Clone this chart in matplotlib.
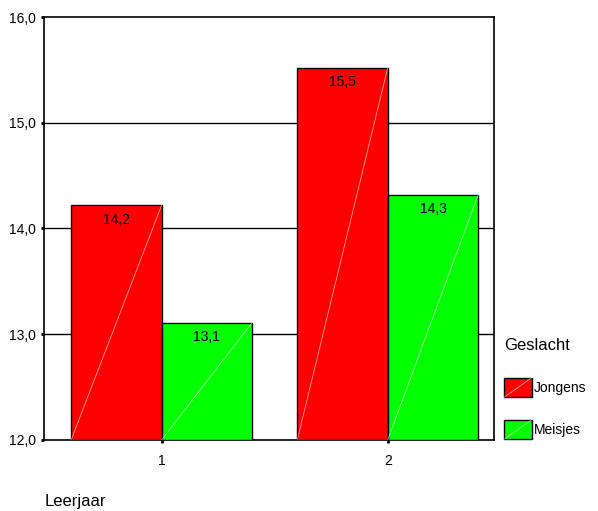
import matplotlib.pyplot as plt
from matplotlib.patches import Patch, Rectangle
from matplotlib.lines import Line2D
from matplotlib.legend_handler import HandlerPatch

plt.rcParams['font.family'] = ['Liberation Sans', 'DejaVu Sans']

leerjaar = [1, 2]
jongens = [14.22, 15.52]
meisjes = [13.11, 14.32]
groepen = ['Jongens', 'Meisjes']
kleuren = ['#ff0000', '#00ff00']
yticks = [12, 13, 14, 15, 16]


class DiagonalPatch(HandlerPatch):
    # legend swatch with the same faint diagonal as the bars
    def create_artists(self, legend, orig_handle, xdescent, ydescent,
                       width, height, fontsize, trans):
        r = Rectangle((-xdescent, -ydescent), width, height,
                      facecolor=orig_handle.get_facecolor(),
                      edgecolor='black', lw=1, transform=trans)
        d = Line2D([-xdescent, -xdescent + width],
                   [-ydescent, -ydescent + height],
                   color='white', lw=0.6, alpha=0.6, transform=trans)
        return [r, d]


fig = plt.figure(figsize=(5.98, 5.11), dpi=100)
ax = fig.add_axes([0.0736, 0.139, 0.7525, 0.8277])

w = 0.4
for series, offset, kleur in [(jongens, -w / 2, kleuren[0]), (meisjes, w / 2, kleuren[1])]:
    xs = [x + offset for x in leerjaar]
    ax.bar(xs, [v - 12 for v in series], bottom=12, width=w, color=kleur,
           edgecolor='black', linewidth=1, zorder=3)
    for x, v in zip(xs, series):
        # faint diagonal across each bar
        ax.plot([x - w / 2, x + w / 2], [12, v], color='white', lw=0.6,
                alpha=0.6, zorder=4)
        ax.text(x, v - 0.07, ('%.1f' % v).replace('.', ','), ha='center',
                va='top', fontsize=10, zorder=5)

ax.set_xlim(0.48, 2.47)
ax.set_ylim(12, 16)
ax.set_yticks(yticks)
ax.set_yticklabels([('%.1f' % t).replace('.', ',') for t in yticks], fontsize=10)
ax.set_xticks(leerjaar)
ax.set_xticklabels([str(x) for x in leerjaar], fontsize=10)
ax.tick_params(length=2, width=2, pad=4)
ax.tick_params(axis='x', pad=8)
for t in yticks[1:-1]:
    ax.axhline(t, color='black', lw=1, zorder=1)
for s in ax.spines.values():
    s.set_linewidth(1.2)

fig.text(0.075, 0.003, 'Leerjaar', fontsize=12, ha='left', va='bottom')

handles = [Patch(facecolor=k, edgecolor='black', label=g) for g, k in zip(groepen, kleuren)]
leg = ax.legend(handles=handles, title='Geslacht', loc='upper left',
                bbox_to_anchor=(1.01, 0.255), frameon=False, fontsize=10,
                title_fontsize=12, alignment='left', labelspacing=1.6,
                handlelength=2.0, handleheight=1.8, handletextpad=0.15,
                borderaxespad=0, handler_map={Patch: DiagonalPatch()})
leg._legend_box.sep = 18

fig.savefig('out.png', dpi=100)
